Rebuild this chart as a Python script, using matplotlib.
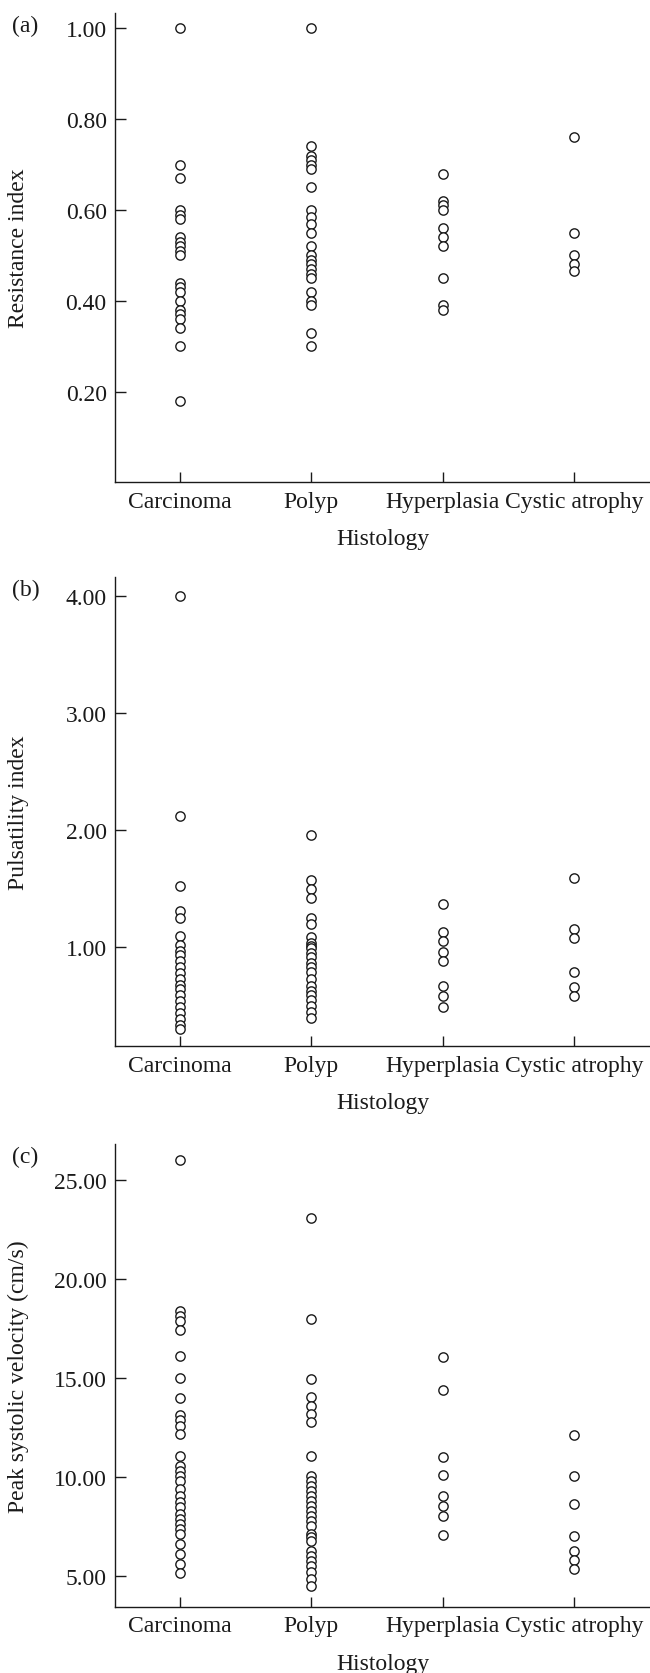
import matplotlib
matplotlib.use("Agg")
import matplotlib.pyplot as plt
from matplotlib.ticker import FormatStrFormatter

categories = ["Carcinoma", "Polyp", "Hyperplasia", "Cystic atrophy"]

# (a) Resistance index
carcinoma_ri = [1.00, 0.70, 0.67, 0.60, 0.59, 0.58, 0.54, 0.53, 0.52, 0.51, 0.50,
                0.44, 0.43, 0.42, 0.40, 0.38, 0.37, 0.36, 0.34, 0.30, 0.18]
polyp_ri = [1.00, 0.74, 0.72, 0.71, 0.70, 0.69, 0.65, 0.60, 0.585, 0.57, 0.55, 0.52,
            0.50, 0.49, 0.48, 0.47, 0.46, 0.45, 0.42, 0.40, 0.39, 0.33, 0.30]
hyper_ri = [0.68, 0.62, 0.61, 0.60, 0.56, 0.54, 0.52, 0.45, 0.39, 0.38]
cystic_ri = [0.76, 0.55, 0.50, 0.48, 0.465]

# (b) Pulsatility index
carcinoma_pi = [4.00, 2.12, 1.52, 1.31, 1.25, 1.10, 1.02, 0.97, 0.93, 0.88, 0.83,
                0.78, 0.73, 0.68, 0.64, 0.59, 0.54, 0.49, 0.44, 0.39, 0.34, 0.30]
polyp_pi = [1.96, 1.57, 1.50, 1.42, 1.25, 1.20, 1.09, 1.04, 1.01, 0.99, 0.95, 0.92,
            0.87, 0.83, 0.79, 0.73, 0.67, 0.63, 0.59, 0.55, 0.50, 0.45, 0.40]
hyper_pi = [1.37, 1.13, 1.05, 0.96, 0.88, 0.67, 0.58, 0.49]
cystic_pi = [1.59, 1.16, 1.08, 0.79, 0.66, 0.58]

# (c) Peak systolic velocity (cm/s)
carcinoma_psv = [26.0, 18.36, 18.14, 17.89, 17.42, 16.09, 14.99, 13.98, 13.12, 12.87,
                 12.58, 12.16, 11.03, 10.56, 10.31, 10.05, 9.80, 9.38, 9.04, 8.70,
                 8.45, 8.11, 7.86, 7.61, 7.35, 7.10, 6.60, 6.09, 5.58, 5.13]
polyp_psv = [23.08, 17.97, 14.92, 14.01, 13.6, 13.17, 12.78, 11.03, 10.02, 9.80,
             9.55, 9.30, 9.04, 8.79, 8.54, 8.28, 8.03, 7.78, 7.53, 7.10, 6.93, 6.77,
             6.26, 6.01, 5.76, 5.50, 5.17, 4.83, 4.46]
hyper_psv = [16.03, 14.4, 11.0, 10.07, 9.04, 8.53, 8.0, 7.04]
cystic_psv = [12.12, 10.05, 8.62, 7.02, 6.26, 5.80, 5.32]

ri_ticks = [0.20, 0.40, 0.60, 0.80, 1.00]
pi_ticks = [1.00, 2.00, 3.00, 4.00]
psv_ticks = [5.00, 10.00, 15.00, 20.00, 25.00]

panels = [
    ("(a)", "Resistance index", [carcinoma_ri, polyp_ri, hyper_ri, cystic_ri],
     ri_ticks, (0.0, 1.034), 14, 483.3),
    ("(b)", "Pulsatility index", [carcinoma_pi, polyp_pi, hyper_pi, cystic_pi],
     pi_ticks, (0.155, 4.157), 578.3, 1047.3),
    ("(c)", "Peak systolic velocity (cm/s)", [carcinoma_psv, polyp_psv, hyper_psv, cystic_psv],
     psv_ticks, (3.43, 26.82), 1145, 1607.7),
]

W, H = 650, 1674
plt.rcParams["font.family"] = ["Liberation Serif", "DejaVu Serif"]
fig = plt.figure(figsize=(W / 100, H / 100), dpi=100)
fs = 17
ink = "#1a1a1a"

for letter, ylabel, groups, yticks, ylim, top_px, bot_px in panels:
    left = 115 / W
    width = (W - 115) / W
    bottom = 1 - bot_px / H
    height = (bot_px - top_px) / H
    ax = fig.add_axes([left, bottom, width, height])
    for i, vals in enumerate(groups):
        ax.plot([i] * len(vals), vals, linestyle="none", marker="o", ms=6.7,
                mfc="white", mec=ink, mew=1.0, zorder=3)
    ax.set_xlim(-0.49, 3.574)
    ax.set_ylim(*ylim)
    ax.set_xticks(range(len(categories)))
    ax.set_xticklabels(categories)
    ax.set_yticks(yticks)
    ax.yaxis.set_major_formatter(FormatStrFormatter("%.2f"))
    for s in ("top", "right"):
        ax.spines[s].set_visible(False)
    for s in ("left", "bottom"):
        ax.spines[s].set_linewidth(1.0)
        ax.spines[s].set_color(ink)
    ax.tick_params(axis="y", direction="in", length=8, width=1.0, color=ink,
                   labelsize=fs, pad=6, labelcolor=ink)
    ax.tick_params(axis="x", direction="in", length=7.5, width=1.0, color=ink,
                   labelsize=fs, pad=6, labelcolor=ink)
    ax.set_xlabel("Histology", fontsize=fs, color=ink, labelpad=12)
    ax.set_ylabel(ylabel, fontsize=fs, color=ink)
    ax.yaxis.set_label_coords(-86 / (W - 115), 0.5)
    ax.patch.set_visible(False)
    fig.text(12 / W, 1 - (top_px + 12) / H, letter, fontsize=fs, color=ink,
             ha="left", va="center")

fig.savefig("out.png", dpi=100)
